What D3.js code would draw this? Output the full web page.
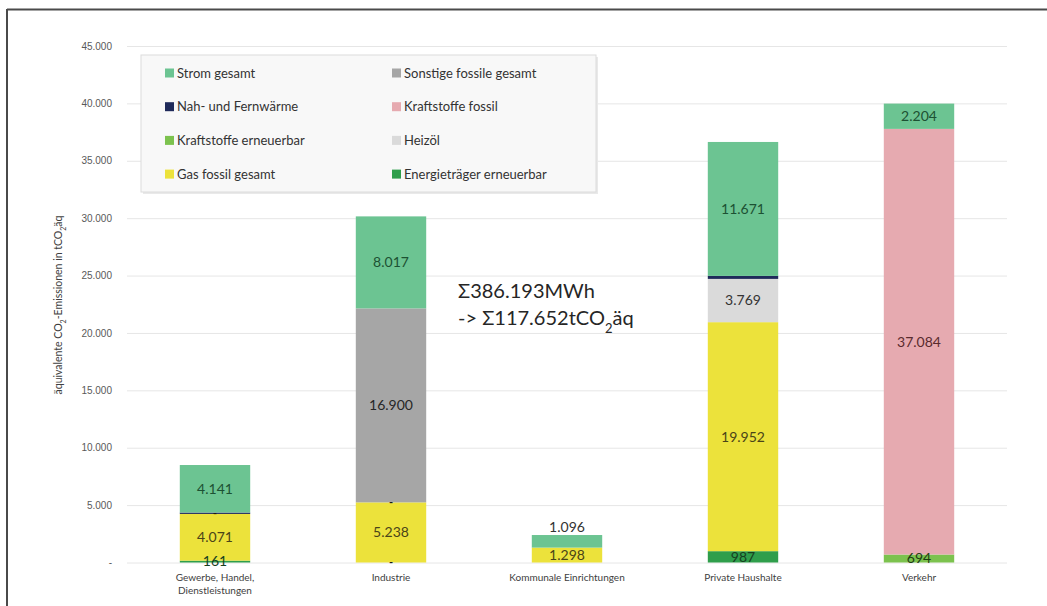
<!DOCTYPE html>
<html>
<head>
<meta charset="utf-8">
<script src="https://cdn.jsdelivr.net/npm/d3@7"></script>
<style>
    body { margin: 0; background: #fff; }
    svg { display: block; font-family: Lato, 'Open Sans', sans-serif; }
</style>
</head>
<body>
<div id="chart"></div>
<script>
// categories (x axis), label lines for the wrapped axis text
const categories = ['Gewerbe, Handel, Dienstleistungen', 'Industrie', 'Kommunale Einrichtungen', 'Private Haushalte', 'Verkehr'];
const categoryLines = [['Gewerbe, Handel,', 'Dienstleistungen'], ['Industrie'], ['Kommunale Einrichtungen'], ['Private Haushalte'], ['Verkehr']];

// series values in tCO2äq, one entry per category
const energietraegerErneuerbar = [161, 0, 0, 987, 0];
const kraftstoffeErneuerbar = [0, 0, 0, 0, 694];
const gasFossil = [4071, 5238, 1298, 19952, 0];
const heizoel = [0, 0, 0, 3769, 0];
const kraftstoffeFossil = [0, 0, 0, 0, 37084];
const sonstigeFossile = [0, 16900, 0, 0, 0];
const nahFernwaerme = [120, 0, 0, 260, 0];
const strom = [4141, 8017, 1096, 11671, 2204];

// segments whose label shows as a dash ("-") in the original
const dashLabels = [
    ['Gewerbe, Handel, Dienstleistungen', 'Nah- und Fernwärme'],
    ['Industrie', 'Heizöl'],
    ['Industrie', 'Energieträger erneuerbar']
];

const yTicks = [0, 5000, 10000, 15000, 20000, 25000, 30000, 35000, 40000, 45000];

// stacking order, bottom to top
const series = [
    { key: 'Energieträger erneuerbar', values: energietraegerErneuerbar, color: '#2f9e4b', text: '#17401f', label: true },
    { key: 'Kraftstoffe erneuerbar', values: kraftstoffeErneuerbar, color: '#7cc24e', text: '#1f3d12', label: true },
    { key: 'Gas fossil gesamt', values: gasFossil, color: '#ece23b', text: '#4a4418', label: true },
    { key: 'Heizöl', values: heizoel, color: '#dadada', text: '#333333', label: true },
    { key: 'Kraftstoffe fossil', values: kraftstoffeFossil, color: '#e6aab0', text: '#5a2a2e', label: true },
    { key: 'Sonstige fossile gesamt', values: sonstigeFossile, color: '#a6a6a6', text: '#262626', label: true },
    { key: 'Nah- und Fernwärme', values: nahFernwaerme, color: '#1f2a5a', text: '#ffffff', label: false },
    { key: 'Strom gesamt', values: strom, color: '#6cc492', text: '#1c5133', label: true }
];

// legend as drawn: two columns, four rows
const legendOrder = [
    'Strom gesamt', 'Sonstige fossile gesamt',
    'Nah- und Fernwärme', 'Kraftstoffe fossil',
    'Kraftstoffe erneuerbar', 'Heizöl',
    'Gas fossil gesamt', 'Energieträger erneuerbar'
];

const config = {
    width: 1047,
    height: 606,
    plot: { left: 127, right: 1007, top: 46, bottom: 562.5 }
};

const de = d3.formatLocale({ decimal: ',', thousands: '.', grouping: [3], currency: ['', ' €'] });
const fmt = de.format(',.0f');

const svg = d3.select('#chart')
    .append('svg')
    .attr('width', config.width)
    .attr('height', config.height)
    ;

svg.append('rect')
    .attr('width', config.width)
    .attr('height', config.height)
    .attr('fill', '#ffffff')
    ;

// frame lines (top and left)
svg.append('line')
    .attr('x1', 7).attr('x2', config.width)
    .attr('y1', 9.5).attr('y2', 9.5)
    .attr('stroke', '#4a4a4a').attr('stroke-width', 2)
    ;
svg.append('line')
    .attr('x1', 7).attr('x2', 7)
    .attr('y1', 9).attr('y2', config.height)
    .attr('stroke', '#4a4a4a').attr('stroke-width', 2)
    ;

const x = d3.scaleBand()
    .domain(categories)
    .range([config.plot.left, config.plot.right])
    .paddingInner(0.6)
    .paddingOuter(0.3)
    ;

const y = d3.scaleLinear()
    .domain([0, 45000])
    .range([config.plot.bottom, config.plot.top])
    ;

// gridlines + y tick labels
const yAxis = d3.axisLeft(y)
    .tickValues(yTicks)
    .tickSize(-(config.plot.right - config.plot.left))
    .tickPadding(15)
    .tickFormat(d => d === 0 ? '-' : fmt(d))
    ;

const gy = svg.append('g')
    .attr('transform', `translate(${config.plot.left}, 0)`)
    .call(yAxis)
    ;
gy.select('.domain').remove();
gy.selectAll('.tick line').attr('stroke', '#e6e6e6').attr('stroke-width', 1);
gy.selectAll('.tick text')
    .attr('fill', '#595959')
    .style('font-size', '10px')
    ;

// y axis title
svg.append('text')
    .attr('transform', `translate(62, 305) rotate(-90)`)
    .attr('text-anchor', 'middle')
    .attr('fill', '#404040')
    .style('font-size', '10.5px')
    .html('äquivalente CO<tspan baseline-shift="sub" font-size="7px">2</tspan>-Emissionen in tCO<tspan baseline-shift="sub" font-size="7px">2</tspan>äq')
    ;

// stacked bars
const table = categories.map((c, i) => {
    const row = { category: c };
    series.forEach(s => { row[s.key] = s.values[i]; });
    return row;
});

const stacked = d3.stack()
    .keys(series.map(s => s.key))(table)
    ;

const layers = svg.selectAll('.layer')
    .data(stacked)
    .enter()
    .append('g')
    .attr('class', 'layer')
    .attr('fill', (d, i) => series[i].color)
    ;

layers.selectAll('rect')
    .data(d => d)
    .enter()
    .filter(d => d[1] - d[0] > 0)
    .append('rect')
    .attr('x', d => x(d.data.category))
    .attr('width', x.bandwidth())
    .attr('y', d => y(d[1]))
    .attr('height', d => y(d[0]) - y(d[1]))
    ;

// value labels
stacked.forEach((layer, i) => {
    const s = series[i];
    if (!s.label) { return; }
    layer.forEach((d, j) => {
        const v = d[1] - d[0];
        if (v <= 0) { return; }
        const h = y(d[0]) - y(d[1]);
        const isTop = i === stacked.length - 1;
        // tiny top segment: label sits above the bar
        const cy = (isTop && h < 14) ? y(d[1]) - 8 : (y(d[0]) + y(d[1])) / 2;
        svg.append('text')
            .attr('x', x(d.data.category) + x.bandwidth() / 2)
            .attr('y', cy)
            .attr('dy', '0.35em')
            .attr('text-anchor', 'middle')
            .attr('fill', (isTop && h < 14) ? '#333333' : s.text)
            .style('font-size', '14px')
            .text(fmt(v))
            ;
    });
});

// dash labels for empty / tiny segments
dashLabels.forEach(([cat, key]) => {
    const layer = stacked.find(l => l.key === key);
    const d = layer[categories.indexOf(cat)];
    svg.append('text')
        .attr('x', x(cat) + x.bandwidth() / 2)
        .attr('y', (y(d[0]) + y(d[1])) / 2)
        .attr('dy', '0.35em')
        .attr('text-anchor', 'middle')
        .attr('fill', '#1a1a1a')
        .style('font-size', '11px')
        .style('font-weight', 'bold')
        .text('-')
        ;
});

// x axis labels
const xLabels = svg.selectAll('.xlabel')
    .data(categories)
    .enter()
    .append('text')
    .attr('class', 'xlabel')
    .attr('text-anchor', 'middle')
    .attr('fill', '#404040')
    .style('font-size', '10px')
    .attr('x', d => x(d) + x.bandwidth() / 2)
    .attr('y', 581)
    ;
xLabels.selectAll('tspan')
    .data((d, i) => categoryLines[i])
    .enter()
    .append('tspan')
    .attr('x', function () { return d3.select(this.parentNode).attr('x'); })
    .attr('dy', (d, i) => i === 0 ? 0 : 13)
    .text(d => d)
    ;

// legend box
const legend = svg.append('g');
legend.append('rect')
    .attr('x', 143).attr('y', 57)
    .attr('width', 455).attr('height', 137)
    .attr('fill', '#e9e9e9')
    ;
legend.append('rect')
    .attr('x', 141).attr('y', 55)
    .attr('width', 455).attr('height', 137)
    .attr('fill', '#f8f8f8')
    .attr('stroke', '#dcdcdc')
    ;

const colorOf = {};
series.forEach(s => { colorOf[s.key] = s.color; });

const items = legend.selectAll('.item')
    .data(legendOrder)
    .enter()
    .append('g')
    .attr('class', 'item')
    .attr('transform', (d, i) => `translate(${i % 2 === 0 ? 165 : 392}, ${73 + Math.floor(i / 2) * 33.7})`)
    ;
items.append('rect')
    .attr('x', 0).attr('y', -4.5)
    .attr('width', 9).attr('height', 9)
    .attr('fill', d => colorOf[d])
    ;
items.append('text')
    .attr('x', 12)
    .attr('dy', '0.35em')
    .attr('fill', '#333333')
    .style('font-size', '13px')
    .text(d => d)
    ;

// sum annotation
const note = svg.append('text')
    .attr('x', 458)
    .attr('y', 298)
    .attr('fill', '#262626')
    .style('font-size', '20px')
    ;
note.append('tspan').text('Σ386.193MWh');
note.append('tspan')
    .attr('x', 458)
    .attr('dy', 27)
    .text('-> Σ117.652tCO');
note.append('tspan')
    .attr('baseline-shift', 'sub')
    .style('font-size', '13px')
    .text('2');
note.append('tspan')
    .attr('baseline-shift', 'baseline')
    .text('äq');
</script>
</body>
</html>
